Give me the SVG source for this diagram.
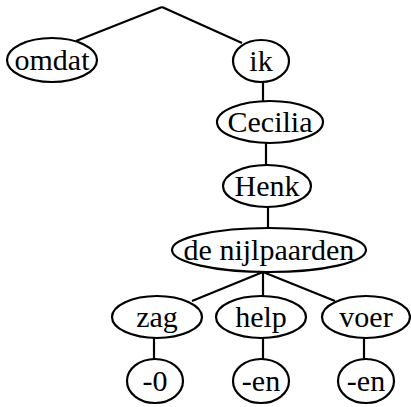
<svg xmlns="http://www.w3.org/2000/svg" width="411" height="407" viewBox="0 0 411 407">
<style>
.n ellipse{fill:#fff;stroke:#000;stroke-width:2.2}
.n text{font-family:"Liberation Serif","Times New Roman",serif;font-size:30px;text-anchor:middle;fill:#000}
#edges line{stroke:#000;stroke-width:2.2}
</style>
<rect width="411" height="407" fill="#fff"/>
<g id="edges">
<line x1="162" y1="7" x2="76" y2="41"/>
<line x1="162" y1="7" x2="242" y2="43"/>
<line x1="263" y1="82" x2="263" y2="101"/>
<line x1="266" y1="143" x2="266" y2="165"/>
<line x1="268" y1="207" x2="268" y2="228"/>
<line x1="263" y1="272" x2="192" y2="301"/>
<line x1="263" y1="272" x2="263" y2="296"/>
<line x1="263" y1="272" x2="335" y2="301"/>
<line x1="154" y1="338" x2="154" y2="359"/>
<line x1="263" y1="338" x2="263" y2="359"/>
<line x1="364" y1="338" x2="364" y2="359"/>
</g>
<g id="omdat" class="n"><ellipse cx="52" cy="60" rx="45" ry="22"/><text x="52" y="70">omdat</text></g>
<g id="ik" class="n"><ellipse cx="261" cy="61" rx="28" ry="21"/><text x="261" y="71">ik</text></g>
<g id="cecilia" class="n"><ellipse cx="270" cy="122" rx="53" ry="21"/><text x="270" y="132">Cecilia</text></g>
<g id="henk" class="n"><ellipse cx="267" cy="186" rx="44" ry="21"/><text x="267" y="196">Henk</text></g>
<g id="nijlpaarden" class="n"><ellipse cx="269" cy="250" rx="97" ry="22"/><text x="269" y="260">de nijlpaarden</text></g>
<g id="zag" class="n"><ellipse cx="157" cy="317" rx="45" ry="21"/><text x="157" y="327">zag</text></g>
<g id="help" class="n"><ellipse cx="261" cy="317" rx="45" ry="21"/><text x="261" y="327">help</text></g>
<g id="voer" class="n"><ellipse cx="366" cy="317" rx="44" ry="21"/><text x="366" y="327">voer</text></g>
<g id="suf0" class="n"><ellipse cx="155" cy="381" rx="28" ry="22"/><text x="155" y="391">-0</text></g>
<g id="suf1" class="n"><ellipse cx="261" cy="381" rx="28" ry="22"/><text x="261" y="391">-en</text></g>
<g id="suf2" class="n"><ellipse cx="366" cy="381" rx="28" ry="22"/><text x="366" y="391">-en</text></g>
</svg>
